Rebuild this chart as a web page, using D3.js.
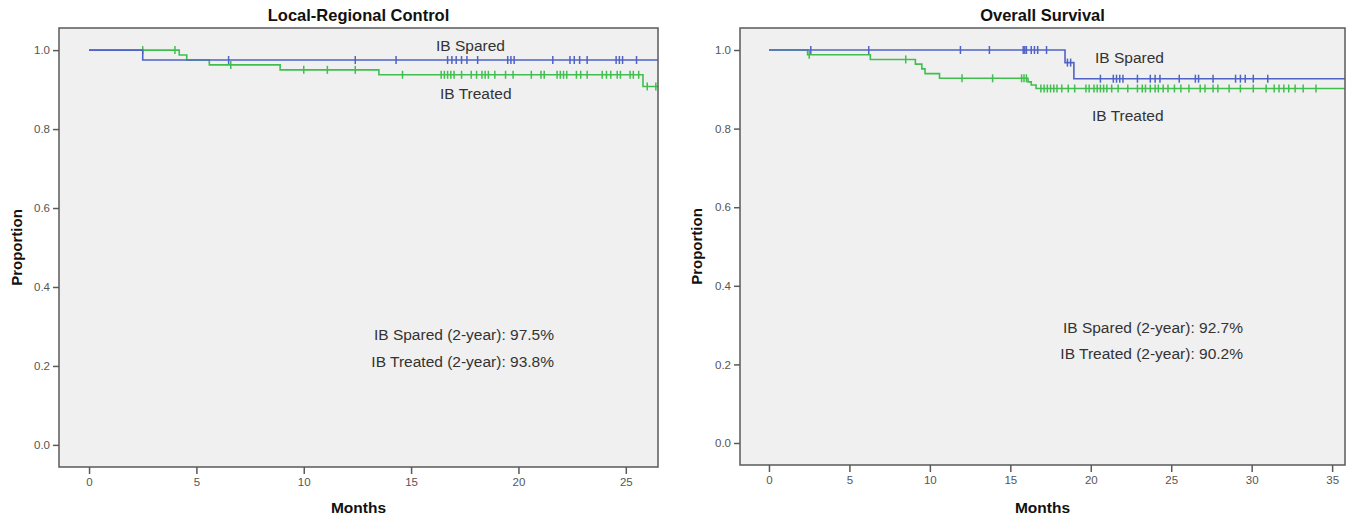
<!DOCTYPE html>
<html>
<head>
<meta charset="utf-8">
<script src="https://cdn.jsdelivr.net/npm/d3@7"></script>
<style>
  body { margin: 0; background: #ffffff; }
  svg { display: block; }
</style>
</head>
<body>
<script>
// ---- data ----
var panelTitles = ["Local-Regional Control", "Overall Survival"];
var groupNames = ["IB Spared", "IB Treated"];
var twoYearText = [
    ["IB Spared (2-year): 97.5%", "IB Treated (2-year): 93.8%"],
    ["IB Spared (2-year): 92.7%", "IB Treated (2-year): 90.2%"]
];
var proportionTicks = [0, 0.2, 0.4, 0.6, 0.8, 1.0];
var lrcMonthTicks = [0, 5, 10, 15, 20, 25];
var osMonthTicks = [0, 5, 10, 15, 20, 25, 30, 35];

// Local-Regional Control
var lrcSparedEventMonths = [2.5];
var lrcSparedEventProp = [0.975];
var lrcSparedCensorMonths = [6.5, 12.4, 14.3, 16.7, 16.9, 17.1, 17.35, 17.6, 18.1, 19.5, 19.65, 19.8,
    21.6, 22.4, 22.6, 22.85, 23.2, 24.55, 24.7, 24.85, 25.5];
var lrcTreatedEventMonths = [4.2, 4.55, 5.6, 8.9, 13.5, 25.8];
var lrcTreatedEventProp = [0.9875, 0.975, 0.9625, 0.95, 0.9375, 0.908];
var lrcTreatedCensorMonths = [2.5, 4.0, 6.6, 10.0, 11.1, 12.4, 14.6, 16.4, 16.55, 16.7, 16.85, 17.0, 17.35,
    17.8, 18.05, 18.3, 18.45, 18.6, 18.9, 19.4, 19.75, 20.6, 21.05, 21.2, 21.8, 21.95, 22.1, 22.25,
    22.7, 22.9, 23.2, 23.9, 24.1, 24.3, 24.6, 24.75, 25.2, 25.35, 25.6, 26.0, 26.4];

// Overall Survival
var osSparedEventMonths = [18.4, 18.95];
var osSparedEventProp = [0.968, 0.927];
var osSparedCensorMonths = [2.6, 6.2, 11.9, 13.7, 15.8, 15.9, 16.0, 16.3, 16.5, 16.7, 17.25, 18.55, 18.75,
    20.6, 21.4, 21.6, 21.8, 22.0, 22.9, 23.7, 24.0, 24.3, 25.5, 26.5, 26.7, 27.6, 29.0, 29.3, 29.6, 30.1, 31.0];
var osTreatedEventMonths = [2.4, 6.3, 9.1, 9.5, 9.7, 10.6, 16.1, 16.3, 16.6];
var osTreatedEventProp = [0.988, 0.976, 0.964, 0.952, 0.940, 0.928, 0.919, 0.911, 0.902];
var osTreatedCensorMonths = [2.5, 8.5, 12.0, 13.9, 15.7, 15.85, 16.0, 16.9, 17.1, 17.3, 17.5, 17.7, 17.9,
    18.2, 18.6, 19.0, 19.7, 19.9, 20.2, 20.4, 20.6, 20.8, 21.0, 21.3, 21.7, 22.3, 22.9, 23.2, 23.4, 23.7,
    24.0, 24.2, 24.5, 24.8, 25.2, 25.6, 26.1, 26.8, 27.1, 27.6, 27.9, 28.6, 29.3, 30.1, 30.9, 31.4, 31.7,
    32.0, 32.3, 32.7, 33.2, 34.0];

// ---- styles ----
var sparedColor = "#4f63c6";
var treatedColor = "#40bf4f";
var plotFill = "#f0f0f0";
var frameStroke = "#5a5a5a";
var textColor = "#333333";
var fontFamily = "'Liberation Sans', Arial, sans-serif";

var svgWidth = 1347, svgHeight = 521;

var svg = d3.select("body").append("svg")
    .attr("width", svgWidth)
    .attr("height", svgHeight);

var panels = [
    {
        title: panelTitles[0],
        frame: { x0: 59, x1: 658, y0: 28, y1: 467 },
        xDomain: [-1.4, 26.5],
        xTicks: lrcMonthTicks,
        spared: { t: lrcSparedEventMonths, s: lrcSparedEventProp, c: lrcSparedCensorMonths },
        treated: { t: lrcTreatedEventMonths, s: lrcTreatedEventProp, c: lrcTreatedCensorMonths },
        notes: twoYearText[0],
        sparedLabel: { x: 436, y: 51 },
        treatedLabel: { x: 440, y: 99 },
        noteRight: 554, noteY: [340, 367],
        yLabelX: 17
    },
    {
        title: panelTitles[1],
        frame: { x0: 740, x1: 1345, y0: 28, y1: 465 },
        xDomain: [-1.8, 35.8],
        xTicks: osMonthTicks,
        spared: { t: osSparedEventMonths, s: osSparedEventProp, c: osSparedCensorMonths },
        treated: { t: osTreatedEventMonths, s: osTreatedEventProp, c: osTreatedCensorMonths },
        notes: twoYearText[1],
        sparedLabel: { x: 1095, y: 63 },
        treatedLabel: { x: 1092, y: 121 },
        noteRight: 1243, noteY: [333, 359],
        yLabelX: 697
    }
];

function survivalAt(group, month) {
    var s = 1;
    for (var i = 0; i < group.t.length; i++) {
        if (group.t[i] <= month) s = group.s[i];
    }
    return s;
}

function drawPanel(p, idx) {
    var f = p.frame;
    var x = d3.scaleLinear().domain(p.xDomain).range([f.x0, f.x1]);
    var y = d3.scaleLinear().domain([-0.056, 1.056]).range([f.y1, f.y0]);

    var g = svg.append("g");

    g.append("rect")
        .attr("x", f.x0).attr("y", f.y0)
        .attr("width", f.x1 - f.x0).attr("height", f.y1 - f.y0)
        .attr("fill", plotFill);

    var clipId = "clip" + idx;
    svg.append("clipPath").attr("id", clipId)
        .append("rect")
        .attr("x", f.x0).attr("y", f.y0)
        .attr("width", f.x1 - f.x0).attr("height", f.y1 - f.y0);

    var line = d3.line()
        .x(function(d) { return x(d[0]); })
        .y(function(d) { return y(d[1]); })
        .curve(d3.curveStepAfter);

    var groups = [
        { data: p.treated, color: treatedColor },
        { data: p.spared, color: sparedColor }
    ];

    var curves = g.append("g").attr("clip-path", "url(#" + clipId + ")");

    groups.forEach(function(gr) {
        var pts = [[0, 1]];
        gr.data.t.forEach(function(t, i) { pts.push([t, gr.data.s[i]]); });
        pts.push([p.xDomain[1], gr.data.s[gr.data.s.length - 1]]);

        curves.append("path")
            .datum(pts)
            .attr("d", line)
            .attr("fill", "none")
            .attr("stroke", gr.color)
            .attr("stroke-width", 1.6);

        curves.selectAll(null)
            .data(gr.data.c)
            .enter().append("line")
            .attr("x1", function(d) { return x(d); })
            .attr("x2", function(d) { return x(d); })
            .attr("y1", function(d) { return y(survivalAt(gr.data, d)) - 4; })
            .attr("y2", function(d) { return y(survivalAt(gr.data, d)) + 4; })
            .attr("stroke", gr.color)
            .attr("stroke-width", 1.5);
    });

    // frame
    g.append("rect")
        .attr("x", f.x0).attr("y", f.y0)
        .attr("width", f.x1 - f.x0).attr("height", f.y1 - f.y0)
        .attr("fill", "none")
        .attr("stroke", frameStroke)
        .attr("stroke-width", 1.5);

    // axes
    var xAxis = g.append("g")
        .attr("transform", "translate(0," + f.y1 + ")")
        .call(d3.axisBottom(x).tickValues(p.xTicks).tickSize(7).tickPadding(4).tickFormat(d3.format("d")));
    var yAxis = g.append("g")
        .attr("transform", "translate(" + f.x0 + ",0)")
        .call(d3.axisLeft(y).tickValues(proportionTicks).tickSize(6).tickPadding(3).tickFormat(d3.format(".1f")));

    [xAxis, yAxis].forEach(function(a) {
        a.select(".domain").remove();
        a.selectAll(".tick line").attr("stroke", frameStroke).attr("stroke-width", 1.5);
        a.selectAll(".tick text")
            .attr("fill", "#555555")
            .style("font-family", fontFamily)
            .style("font-size", "11.5px");
    });

    var cx = (f.x0 + f.x1) / 2;

    g.append("text")
        .attr("x", cx).attr("y", 21)
        .attr("text-anchor", "middle")
        .style("font-family", fontFamily)
        .style("font-size", "16.5px")
        .style("font-weight", "bold")
        .attr("fill", "#111111")
        .text(p.title);

    g.append("text")
        .attr("x", cx).attr("y", 513)
        .attr("text-anchor", "middle")
        .style("font-family", fontFamily)
        .style("font-size", "15.5px")
        .style("font-weight", "bold")
        .attr("fill", "#111111")
        .text("Months");

    g.append("text")
        .attr("transform", "translate(" + (p.yLabelX + 5) + "," + ((f.y0 + f.y1) / 2) + ") rotate(-90)")
        .attr("text-anchor", "middle")
        .style("font-family", fontFamily)
        .style("font-size", "15px")
        .style("font-weight", "bold")
        .attr("fill", "#111111")
        .text("Proportion");

    g.append("text")
        .attr("x", p.sparedLabel.x).attr("y", p.sparedLabel.y)
        .style("font-family", fontFamily)
        .style("font-size", "15.5px")
        .attr("fill", textColor)
        .text(groupNames[0]);

    g.append("text")
        .attr("x", p.treatedLabel.x).attr("y", p.treatedLabel.y)
        .style("font-family", fontFamily)
        .style("font-size", "15.5px")
        .attr("fill", textColor)
        .text(groupNames[1]);

    p.notes.forEach(function(n, i) {
        g.append("text")
            .attr("x", p.noteRight).attr("y", p.noteY[i])
            .attr("text-anchor", "end")
            .style("font-family", fontFamily)
            .style("font-size", "15.5px")
            .attr("fill", textColor)
            .text(n);
    });
}

panels.forEach(drawPanel);
</script>
</body>
</html>
